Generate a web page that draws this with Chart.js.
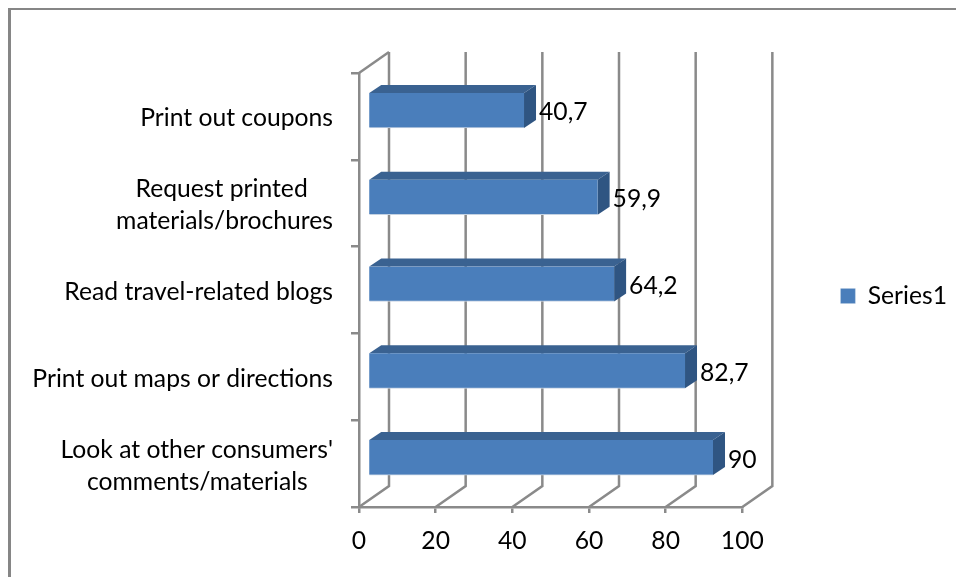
<!DOCTYPE html>
<html>
<head>
<meta charset="utf-8">
<style>
  html, body { margin: 0; padding: 0; background: #fff; }
  #wrap { position: relative; width: 956px; height: 577px; overflow: hidden; }
  #frame { position: absolute; left: 8px; top: 8px; width: 960px; height: 580px; border: 2px solid #868686; border-left-width: 3px; box-sizing: border-box; }
  canvas { position: absolute; left: 0; top: 0; }
</style>
<script src="https://cdn.jsdelivr.net/npm/chart.js@4"></script>
</head>
<body>
<div id="wrap">
  <div id="frame"></div>
  <canvas id="c" width="956" height="577"></canvas>
</div>
<script>
const categories = [
  "Print out coupons",
  ["Request printed", "materials/brochures"],
  "Read travel-related blogs",
  "Print out maps or directions",
  ["Look at other consumers'", "comments/materials"],
];
const series1 = [40.7, 59.9, 64.2, 82.7, 90];
const xTicks = [0, 20, 40, 60, 80, 100];

const FONT = { family: "Lato, 'Open Sans', sans-serif", size: 24.7, lineHeight: 1.3 };
const AXIS = "#8a8a8a";
const wall = { dx: 30, dy: -21 };   // depth of the back wall
const barOff = { dx: 9, dy: -6 };   // bars sit a little way into the box
const barDepth = { dx: 12, dy: -8 };

// two-line labels are centred on each other, so pad the short line
const measure = document.createElement("canvas").getContext("2d");
function padLabel(v) {
  const lab = categories[v];
  if (!Array.isArray(lab)) return lab;
  measure.font = FONT.size + "px " + FONT.family;
  const w = lab.map((s) => measure.measureText(s).width);
  const sp = measure.measureText("\u00a0").width;
  const pad = "\u00a0".repeat(Math.round(Math.abs(w[0] - w[1]) / 2 / sp));
  return w[0] < w[1] ? [lab[0] + pad, lab[1]] : [lab[0], lab[1] + pad];
}

const box3d = {
  id: "box3d",
  afterLayout(chart) {
    // legend sits well away from the plot
    const l = chart.legend;
    l.left += 98; l.right += 98;
    l.top -= 19; l.bottom -= 19;
  },
  beforeDatasetsDraw(chart) {
    const { ctx, chartArea: a, scales } = chart;
    ctx.save();
    ctx.strokeStyle = AXIS;
    ctx.lineWidth = 2.5;
    scales.x.ticks.forEach((t) => {
      const x = scales.x.getPixelForValue(t.value);
      ctx.beginPath();
      ctx.moveTo(x, a.bottom);
      ctx.lineTo(x + wall.dx, a.bottom + wall.dy);
      ctx.lineTo(x + wall.dx, a.top + wall.dy);
      ctx.stroke();
    });
    const x0 = scales.x.getPixelForValue(0);
    ctx.beginPath();
    ctx.moveTo(x0, a.top);
    ctx.lineTo(x0 + wall.dx, a.top + wall.dy);
    ctx.stroke();
    ctx.restore();
    // front faces get drawn shifted
    ctx.save();
    ctx.translate(barOff.dx, barOff.dy);
    // top and side faces
    chart.getDatasetMeta(0).data.forEach((bar) => {
      const p = bar.getProps(["x", "y", "base", "height"], true);
      const t = p.y - p.height / 2, b = p.y + p.height / 2;
      ctx.fillStyle = "#3a6291";
      ctx.beginPath();
      ctx.moveTo(p.base, t);
      ctx.lineTo(p.base + barDepth.dx, t + barDepth.dy);
      ctx.lineTo(p.x + barDepth.dx, t + barDepth.dy);
      ctx.lineTo(p.x, t);
      ctx.closePath();
      ctx.fill();
      ctx.fillStyle = "#2f5582";
      ctx.beginPath();
      ctx.moveTo(p.x, t);
      ctx.lineTo(p.x + barDepth.dx, t + barDepth.dy);
      ctx.lineTo(p.x + barDepth.dx, b + barDepth.dy);
      ctx.lineTo(p.x, b);
      ctx.closePath();
      ctx.fill();
    });
  },
  afterDatasetsDraw(chart) {
    const { ctx } = chart;
    ctx.restore();
    ctx.save();
    ctx.font = FONT.size + "px " + FONT.family;
    ctx.fillStyle = "#000";
    ctx.textAlign = "left";
    ctx.textBaseline = "middle";
    chart.getDatasetMeta(0).data.forEach((bar, i) => {
      const txt = String(series1[i]).replace(".", ",");
      ctx.fillText(txt, bar.x + barOff.dx + barDepth.dx + 3, bar.y + barOff.dy + 2);
    });
    ctx.restore();
  },
};

new Chart(document.getElementById("c"), {
  type: "bar",
  data: {
    labels: categories,
    datasets: [{
      label: "Series1",
      data: series1,
      backgroundColor: "#4a7ebb",
      borderColor: "#c4d2e2",
      borderWidth: { bottom: 1 },
      borderSkipped: false,
      barThickness: 35,
    }],
  },
  plugins: [box3d],
  options: {
    indexAxis: "y",
    responsive: false,
    animation: false,
    layout: { padding: { top: 73, right: 97, bottom: 20, left: 0 } },
    scales: {
      x: {
        min: 0,
        max: 100,
        afterBuildTicks(s) { s.ticks = xTicks.map((v) => ({ value: v })); },
        afterFit(s) { s.height = 50; },
        grid: { drawOnChartArea: false, color: AXIS, lineWidth: 2.5, tickLength: 6 },
        border: { color: AXIS, width: 2.5 },
        ticks: { color: "#000", font: FONT, padding: 12, maxRotation: 0 },
      },
      y: {
        afterFit(s) { s.width = 359; },
        grid: { drawOnChartArea: false, color: AXIS, lineWidth: 2.5, tickLength: 8 },
        border: { color: AXIS, width: 2.5 },
        ticks: { color: "#000", font: FONT, padding: 18, autoSkip: false, labelOffset: 2, callback: padLabel },
      },
    },
    plugins: {
      tooltip: { enabled: false },
      legend: {
        position: "right",
        labels: { color: "#000", font: FONT, boxWidth: 15, boxHeight: 15, padding: 0 },
      },
    },
  },
});
</script>
</body>
</html>
